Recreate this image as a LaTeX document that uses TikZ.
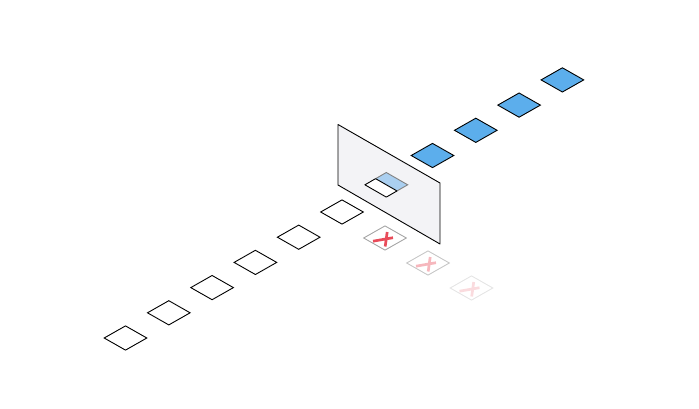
\documentclass[tikz,border=0pt]{standalone}
\usetikzlibrary{shapes.geometric}
\definecolor{tileblue}{RGB}{92,174,236}
\definecolor{tilepale}{RGB}{170,207,240}
\definecolor{crossred}{RGB}{232,76,90}
\definecolor{panelgray}{RGB}{243,243,246}

\begin{document}
\begin{tikzpicture}[
  x=1pt,y=-1pt,
  tile/.style={diamond,draw,line width=0.9pt,minimum width=43pt,minimum height=24.6pt,inner sep=0pt},
  done/.style={tile,fill=tileblue},
  dropped/.style={tile,draw=black!35},
  cross/.style={crossred,line width=2.7pt},
  panel/.style={draw,line width=0.9pt,fill=panelgray,line join=round}
]
  \useasboundingbox (0,0) rectangle (699,408);

  % tiles waiting in front of the gate
  \node[tile] (w1) at (125.5,338) {};
  \node[tile] (w2) at (168.8,312.8) {};
  \node[tile] (w3) at (212.1,287.6) {};
  \node[tile] (w4) at (255.4,262.4) {};
  \node[tile] (w5) at (298.7,237.2) {};
  \node[tile] (w6) at (342,212) {};

  % tiles turned away
  \node[dropped] (x1) at (385,238) {};
  \draw[cross,shift={(x1)}] (-12,3.2) -- (8,-0.3) (2.2,-6) -- (0.2,8.5);
  \node[tile,draw=black!22] (x2) at (428,263) {};
  \draw[cross,crossred!40,shift={(x2)}] (-12,3.2) -- (8,-0.3) (2.2,-6) -- (0.2,8.5);
  \node[tile,draw=black!10] (x3) at (471.5,288) {};
  \draw[cross,crossred!20,shift={(x3)}] (-12,3.2) -- (8,-0.3) (2.2,-6) -- (0.2,8.5);

  % the gate
  \draw[panel] (338,124.5) -- (440,183) -- (440,244) -- (338,185) -- cycle;
  \coordinate (gl) at (364.9,184.8);
  \coordinate (gt) at (386.3,172.5);
  \coordinate (gr) at (407.7,184.8);
  \coordinate (gb) at (386.3,197.1);
  \coordinate (gm1) at (375.6,178.65);
  \coordinate (gm2) at (397,190.95);
  \fill[white] (gl) -- (gt) -- (gr) -- (gb) -- cycle;
  \filldraw[fill=tilepale,draw=black!50,line width=0.9pt] (gm1) -- (gt) -- (gr) -- (gm2);
  \draw[line width=0.9pt,line join=round] (gm1) -- (gl) -- (gb) -- (gm2) -- cycle;

  % tiles through the gate
  \node[done] (b1) at (432.5,155.5) {};
  \node[done] (b2) at (475.8,130.3) {};
  \node[done] (b3) at (519.1,105.1) {};
  \node[done] (b4) at (562.4,79.9) {};
\end{tikzpicture}
\end{document}
